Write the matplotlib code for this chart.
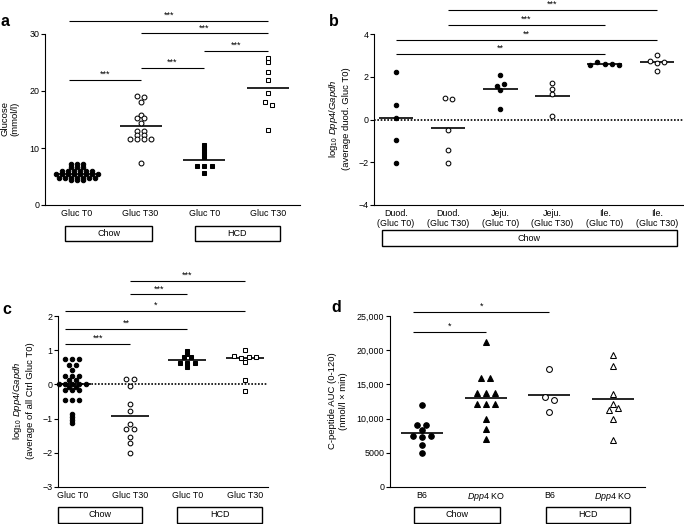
import numpy as np
import matplotlib
matplotlib.use('Agg')
import matplotlib.pyplot as plt
import matplotlib.transforms as mtransforms
from matplotlib.patches import Rectangle
from matplotlib.ticker import FuncFormatter

plt.rcParams['font.family'] = ['Liberation Sans', 'DejaVu Sans']
plt.rcParams['mathtext.fontset'] = 'custom'
plt.rcParams['mathtext.rm'] = 'Liberation Sans'
plt.rcParams['mathtext.it'] = 'Liberation Sans:italic'
plt.rcParams['axes.linewidth'] = 0.8

# ---- values ----
# a: glucose (mmol/l)
a_labels = ['Gluc T0', 'Gluc T30', 'Gluc T0', 'Gluc T30']
a_chow_t0 = [7.2, 7.2, 7.2, 6.6, 6.6, 6.6, 6.0, 6.0, 6.0, 6.0, 6.0, 6.0,
             5.4, 5.4, 5.4, 5.4, 5.4, 5.4, 5.4, 5.4, 4.8, 4.8, 4.8, 4.8,
             4.8, 4.8, 4.8, 4.3, 4.3, 4.3]
a_chow_t30 = [19.1, 18.9, 18.0, 15.8, 15.2, 15.2, 14.4, 12.9, 12.9, 12.3,
              12.3, 11.5, 11.5, 11.5, 11.5, 7.3]
a_hcd_t0 = [10.5, 10.0, 9.5, 9.0, 8.5, 6.8, 6.8, 6.8, 5.6]
a_hcd_t30 = [25.8, 25.0, 23.4, 22.0, 19.6, 18.0, 17.6, 13.1]
a_means = [5.4, 13.8, 7.9, 20.5]
a_sig = [(0, 3, 32.3, '***'), (1, 3, 30.1, '***'), (2, 3, 27.0, '***'),
         (1, 2, 24.1, '***'), (0, 1, 21.9, '***')]

# b: log10 Dpp4/Gapdh along the gut
b_labels = ['Duod.\n(Gluc T0)', 'Duod.\n(Gluc T30)', 'Jeju.\n(Gluc T0)',
            'Jeju.\n(Gluc T30)', 'Ile.\n(Gluc T0)', 'Ile.\n(Gluc T30)']
b_duod_t0 = [2.24, 0.70, 0.09, -0.97, -2.02]
b_duod_t30 = [0.99, 0.95, -0.47, -1.41, -2.02]
b_jeju_t0 = [2.08, 1.58, 1.66, 1.38, 0.48]
b_jeju_t30 = [1.72, 1.45, 1.17, 0.16]
b_ile_t0 = [2.56, 2.68, 2.60, 2.60, 2.54]
b_ile_t30 = [3.02, 2.74, 2.63, 2.70, 2.28]
b_means = [0.05, -0.38, 1.42, 1.11, 2.60, 2.67]
b_sig = [(1, 5, 5.13, '***'), (1, 4, 4.43, '***'), (0, 5, 3.72, '**'),
         (0, 4, 3.05, '**')]

# c: log10 Dpp4/Gapdh, chow vs HCD
c_labels = a_labels
c_chow_t0 = [0.75, 0.75, 0.75, 0.57, 0.57, 0.42, 0.25, 0.25, 0.25, 0.13, 0.13,
             0.01, 0.01, 0.01, 0.01, 0.01, -0.07, -0.07, -0.16, -0.16, -0.16,
             -0.45, -0.45, -0.45, -0.88, -0.96, -1.04, -1.13]
c_chow_t30 = [0.15, 0.15, -0.04, -0.56, -0.77, -1.17, -1.31, -1.31, -1.55,
              -1.72, -2.01]
c_hcd_t0 = [0.99, 0.89, 0.79, 0.79, 0.64, 0.64, 0.64, 0.50]
c_hcd_t30 = [1.01, 0.83, 0.78, 0.81, 0.79, 0.66, 0.13, -0.18]
c_means = [0.0, -0.92, 0.72, 0.78]
c_sig = [(1, 3, 3.02, '***'), (1, 2, 2.63, '***'), (0, 3, 2.14, '*'),
         (0, 2, 1.63, '**'), (0, 1, 1.19, '***')]

# d: C-peptide AUC
d_labels = ['B6', r'$\mathit{Dpp4}$ KO', 'B6', r'$\mathit{Dpp4}$ KO']
d_b6_chow = [12000, 9000, 9000, 8300, 7500, 7300, 7500, 6200, 5000]
d_ko_chow = [21200, 15900, 15900, 13700, 13700, 13700, 12200, 12200, 12200,
             10000, 8500, 7000]
d_b6_hcd = [17200, 13100, 12700, 11000]
d_ko_hcd = [19300, 17700, 13600, 12100, 11200, 11500, 10000, 6900]
d_means = [7900, 13000, 13500, 12900]
d_sig = [(0, 2, 25600, '*'), (0, 1, 22660, '*')]

W, H = 684, 524
fig = plt.figure(figsize=(W / 100, H / 100), dpi=100)


def make_ax(l, r, t, b, xlim, ylim, labels):
    ax = fig.add_axes([l / W, 1 - b / H, (r - l) / W, (b - t) / H])
    ax.set_xlim(*xlim)
    ax.set_ylim(*ylim)
    for s in ['top', 'right']:
        ax.spines[s].set_visible(False)
    ax.set_xticks(range(len(labels)))
    ax.set_xticklabels(labels, fontsize=6.4, linespacing=1.15)
    ax.tick_params(axis='x', length=0, pad=3)
    ax.tick_params(axis='y', length=2.6, width=0.8, labelsize=6.4, pad=1.5)
    return ax


def swarm_x(ax, xc, vals, spacing, thr, maxhalf):
    # points whose values are close share a row, spread side by side
    vals = np.asarray(vals, float)
    ypx = ax.transData.transform(np.column_stack([np.zeros_like(vals), vals]))[:, 1]
    order = np.argsort(vals, kind='stable')
    rows = []
    start = None
    for i in order:
        if rows and ypx[i] - start < thr:
            rows[-1].append(i)
        else:
            rows.append([i])
            start = ypx[i]
    x0, x1 = ax.get_xlim()
    ppu = ax.bbox.width / (x1 - x0)
    xs = np.zeros_like(vals)
    for row in rows:
        row = sorted(row)
        n = len(row)
        sp = spacing if n < 2 else min(spacing, 2 * maxhalf / (n - 1))
        for k, i in enumerate(row):
            xs[i] = xc + (k - (n - 1) / 2) * sp / ppu
    return xs


def dots(ax, xc, vals, marker, filled, ms, spacing=7.2, thr=2.5, maxhalf=21):
    xs = swarm_x(ax, xc, vals, spacing, thr, maxhalf)
    ax.plot(xs, vals, ls='none', marker=marker, ms=ms,
            mfc='k' if filled else 'white', mec='k', mew=0.75,
            zorder=3, clip_on=False)


def mean_lines(ax, means, half=0.33):
    for i, m in enumerate(means):
        ax.plot([i - half, i + half], [m, m], color='k', lw=1.2, zorder=2,
                solid_capstyle='butt')


def brackets(ax, sig, left_shift=0.12):
    for i, j, y, s in sig:
        x0 = i - (left_shift if i == 0 else 0)
        ax.plot([x0, j], [y, y], color='k', lw=0.8, clip_on=False,
                solid_capstyle='butt')
        ax.annotate(s, xy=((x0 + j) / 2, y), xytext=(0, 0.8),
                    textcoords='offset points', ha='center', va='bottom',
                    fontsize=6.5, annotation_clip=False)


def group_box(ax, x0, x1, y0, y1, text):
    tr = mtransforms.blended_transform_factory(ax.transData, ax.transAxes)
    ax.add_patch(Rectangle((x0, y0), x1 - x0, y1 - y0, transform=tr,
                           fill=False, lw=1.0, ec='k', clip_on=False))
    ax.text((x0 + x1) / 2, (y0 + y1) / 2, text, transform=tr, ha='center',
            va='center', fontsize=6.5)


def ylab(px, py, text):
    fig.text(px / W, 1 - py / H, text, rotation=90, ha='center', va='center',
             fontsize=6.8, linespacing=1.15)


def letter(px, py, s):
    fig.text(px / W, 1 - py / H, s, fontsize=11.5, fontweight='bold',
             ha='center', va='center')


# ---- a ----
ax = make_ax(45, 300, 34, 205, (-0.5, 3.5), (0, 30), a_labels)
ax.set_yticks([0, 10, 20, 30])
mean_lines(ax, a_means)
dots(ax, 0, a_chow_t0, 'o', True, 3.2, spacing=6.0)
dots(ax, 1, a_chow_t30, 'o', False, 3.5)
dots(ax, 2, a_hcd_t0, 's', True, 3.2)
dots(ax, 3, a_hcd_t30, 's', False, 3.3)
brackets(ax, a_sig)
group_box(ax, -0.18, 1.18, -0.123, -0.211, 'Chow')
group_box(ax, 1.85, 3.18, -0.123, -0.211, 'HCD')
ylab(10, 119, 'Glucose\n(mmol/l)')
letter(5, 22, 'a')

# ---- b ----
ax = make_ax(374, 684, 34, 205, (-0.42, 5.52), (-4, 4), b_labels)
ax.set_yticks([-4, -2, 0, 2, 4])
ax.axhline(0, color='k', lw=1.2, ls=(0, (1, 1)), zorder=1)
mean_lines(ax, b_means)
for k, (vals, filled) in enumerate([(b_duod_t0, True), (b_duod_t30, False),
                                    (b_jeju_t0, True), (b_jeju_t30, False),
                                    (b_ile_t0, True), (b_ile_t30, False)]):
    dots(ax, k, vals, 'o', filled, 3.2 if filled else 3.4, thr=3.5)
brackets(ax, b_sig, left_shift=0)
group_box(ax, -0.27, 5.38, -0.146, -0.24, 'Chow')
ylab(339, 119, 'log$_{10}$ $\\mathit{Dpp4/Gapdh}$\n(average duod. Gluc T0)')
letter(334, 22, 'b')

# ---- c ----
ax = make_ax(58, 268, 316, 487, (-0.25, 3.4), (-3, 2), c_labels)
ax.set_yticks([-3, -2, -1, 0, 1, 2])
ax.axhline(0, color='k', lw=1.2, ls=(0, (1, 1)), zorder=1)
mean_lines(ax, c_means)
dots(ax, 0, c_chow_t0, 'o', True, 3.2, spacing=6.9)
dots(ax, 1, c_chow_t30, 'o', False, 3.4)
dots(ax, 2, c_hcd_t0, 's', True, 3.2)
dots(ax, 3, c_hcd_t30, 's', False, 3.3)
brackets(ax, c_sig)
group_box(ax, -0.25, 1.21, -0.117, -0.21, 'Chow')
group_box(ax, 1.82, 3.3, -0.117, -0.21, 'HCD')
ylab(23, 401, 'log$_{10}$ $\\mathit{Dpp4/Gapdh}$\n(average of all Ctrl Gluc T0)')
letter(7, 310, 'c')

# ---- d ----
ax = make_ax(390, 645, 316, 487, (-0.5, 3.5), (0, 25000), d_labels)
ax.set_yticks([0, 5000, 10000, 15000, 20000, 25000])
ax.yaxis.set_major_formatter(FuncFormatter(
    lambda v, p: f'{int(v):,}' if v >= 10000 else f'{int(v)}'))
mean_lines(ax, d_means)
dots(ax, 0, d_b6_chow, 'o', True, 4.0, spacing=9, thr=3)
dots(ax, 1, d_ko_chow, '^', True, 4.0, spacing=9, thr=3)
dots(ax, 2, d_b6_hcd, 'o', False, 4.2, spacing=9, thr=3)
dots(ax, 3, d_ko_hcd, '^', False, 4.0, spacing=9, thr=3)
brackets(ax, d_sig, left_shift=0.14)
group_box(ax, -0.13, 1.23, -0.117, -0.21, 'Chow')
group_box(ax, 1.94, 3.27, -0.117, -0.21, 'HCD')
ylab(338, 401, 'C-peptide AUC (0-120)\n(nmol/l \u00d7 min)')
letter(336, 308, 'd')

fig.savefig('out.png', dpi=100)
